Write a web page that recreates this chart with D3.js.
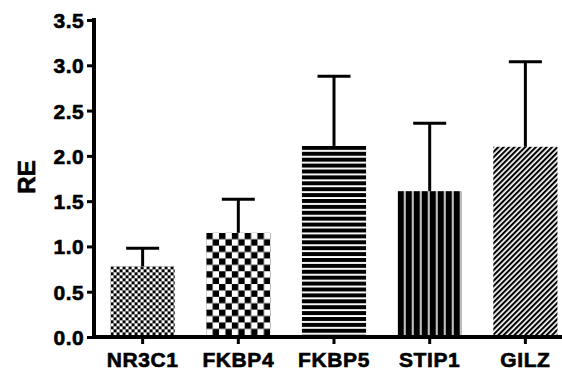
<!DOCTYPE html>
<meta charset="utf-8">
<style>
body{margin:0;background:#fff}
svg{position:absolute;top:0;left:0}
text{font-family:'Liberation Sans',Arial,sans-serif;font-weight:bold;fill:#000}
</style>
<script src="https://d3js.org/d3.v7.min.js"></script>
<svg width="562" height="374"></svg>
<script>
var genes = ["NR3C1", "FKBP4", "FKBP5", "STIP1", "GILZ"];
var means = [0.78, 1.15, 2.11, 1.61, 2.10];
var errs = [0.20, 0.37, 0.77, 0.75, 0.94];
var yTicks = [0, 0.5, 1.0, 1.5, 2.0, 2.5, 3.0, 3.5];

var svg = d3.select("svg");

var y = d3.scaleLinear().domain([0, 3.5]).range([337, 20]);
var x = d3.scaleBand().domain(genes).range([101, 567])
  .paddingInner(0.33).paddingOuter(0.1);

var defs = svg.append("defs");

// one fill pattern per gene, anchored at the bar corner
function pat(i) {
  var g = genes[i], bx = x(g), by = y(means[i]);
  var p = defs.append("pattern").attr("id", "p" + i)
    .attr("patternUnits", "userSpaceOnUse")
    .attr("x", bx).attr("y", by);
  if (i == 0) {
    p.attr("width", 6).attr("height", 6);
    p.append("rect").attr("width", 3).attr("height", 3);
    p.append("rect").attr("x", 3).attr("y", 3).attr("width", 3).attr("height", 3);
  } else if (i == 1) {
    p.attr("width", 12.8).attr("height", 12.8);
    p.append("rect").attr("width", 6.4).attr("height", 6.4);
    p.append("rect").attr("x", 6.4).attr("y", 6.4).attr("width", 6.4).attr("height", 6.4);
  } else if (i == 2) {
    p.attr("width", 10).attr("height", 5.9);
    p.append("rect").attr("width", 10).attr("height", 4);
  } else if (i == 3) {
    p.attr("width", 8).attr("height", 10);
    p.append("rect").attr("width", 6.4).attr("height", 10);
  } else {
    p.attr("width", 3.8).attr("height", 10)
      .attr("patternTransform", "rotate(45)");
    p.append("rect").attr("width", 2.1).attr("height", 10);
  }
}
genes.forEach(function(g, i) { pat(i); });

// bars
svg.selectAll(".bar").data(genes).enter().append("rect")
  .attr("class", "bar")
  .attr("x", function(d) { return x(d); })
  .attr("y", function(d, i) { return y(means[i]); })
  .attr("width", x.bandwidth())
  .attr("height", function(d, i) { return y(0) - y(means[i]); })
  .style("fill", function(d, i) { return "url(#p" + i + ")"; });

// error bars (upper only)
var eb = svg.selectAll(".err").data(genes).enter().append("g").attr("class", "err");
eb.append("line")
  .attr("x1", function(d) { return x(d) + x.bandwidth() / 2; })
  .attr("x2", function(d) { return x(d) + x.bandwidth() / 2; })
  .attr("y1", function(d, i) { return y(means[i]); })
  .attr("y2", function(d, i) { return y(means[i] + errs[i]); })
  .style("stroke", "#000").style("stroke-width", 3);
eb.append("line")
  .attr("x1", function(d) { return x(d) + x.bandwidth() / 2 - 16.5; })
  .attr("x2", function(d) { return x(d) + x.bandwidth() / 2 + 16.5; })
  .attr("y1", function(d, i) { return y(means[i] + errs[i]); })
  .attr("y2", function(d, i) { return y(means[i] + errs[i]); })
  .style("stroke", "#000").style("stroke-width", 3);

// y axis
var yAxis = svg.append("g").attr("transform", "translate(94,0)")
  .call(d3.axisLeft(y).tickValues(yTicks).tickFormat(d3.format(".1f")).tickSize(7).tickSizeOuter(0));
yAxis.select(".domain").style("stroke", "#000").style("stroke-width", 4).attr("d", "M0,18V339");
yAxis.selectAll(".tick line").style("stroke", "#000").style("stroke-width", 3);
yAxis.selectAll(".tick text").attr("x", -10).attr("dy", "0.36em")
  .style("font-size", "21px").style("letter-spacing", "0.4px")
  .style("stroke", "#000").style("stroke-width", 0.6)
  .style("font-family", "'Liberation Sans',Arial,sans-serif").style("font-weight", "bold");

// x axis
var xAxis = svg.append("g").attr("transform", "translate(0,337)")
  .call(d3.axisBottom(x).tickSize(7).tickSizeOuter(0));
xAxis.select(".domain").style("stroke", "#000").style("stroke-width", 4).attr("d", "M92,0H562");
xAxis.selectAll(".tick line").style("stroke", "#000").style("stroke-width", 3);
xAxis.selectAll(".tick text").attr("y", 15)
  .style("font-size", "21px").style("letter-spacing", "0.6px")
  .style("stroke", "#000").style("stroke-width", 0.6)
  .style("font-family", "'Liberation Sans',Arial,sans-serif").style("font-weight", "bold");

// y label
svg.append("text")
  .attr("transform", "translate(35,177) rotate(-90)")
  .attr("text-anchor", "middle")
  .style("font-size", "24px")
  .style("stroke", "#000").style("stroke-width", 0.6)
  .text("RE");
</script>
